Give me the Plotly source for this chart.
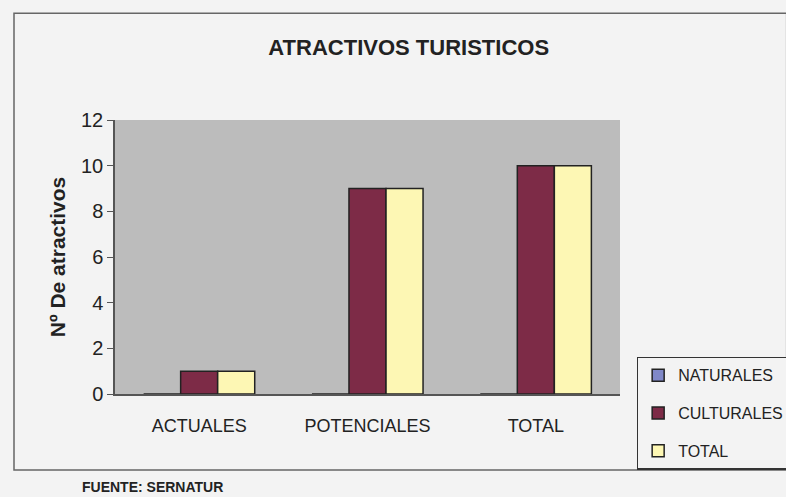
import plotly.graph_objects as go

# data
categorias = ["ACTUALES", "POTENCIALES", "TOTAL"]
naturales = [0, 0, 0]
culturales = [1, 9, 10]
total = [1, 9, 10]
y_ticks = [0, 2, 4, 6, 8, 10, 12]

fuente = "Liberation Sans Narrow, Arial Narrow, Liberation Sans, Arial, sans-serif"

fig = go.Figure()
fig.add_trace(go.Bar(name="NATURALES", x=categorias, y=naturales, legendgroup="n",
                     marker=dict(color="#8088c8", line=dict(color="#222", width=1.5))))
fig.add_trace(go.Bar(name="CULTURALES", x=categorias, y=culturales, legendgroup="c",
                     marker=dict(color="#7d2b47", line=dict(color="#222", width=1.5))))
fig.add_trace(go.Bar(name="TOTAL", x=categorias, y=total, legendgroup="t",
                     marker=dict(color="#fdf7b4", line=dict(color="#222", width=1.5))))

fig.update_layout(
    width=786, height=497,
    barmode="group", bargap=0.34, bargroupgap=0,
    paper_bgcolor="#f3f3f3", plot_bgcolor="#bcbcbc",
    margin=dict(l=115, r=166, t=120, b=103, autoexpand=False),
    font=dict(family=fuente, color="#222"),
    title=dict(text="<b>ATRACTIVOS TURISTICOS</b>", x=0.52, xanchor="center",
               y=0.905, yanchor="middle", font=dict(size=22, family=fuente)),
    xaxis=dict(showgrid=False, showline=True, linecolor="#555", linewidth=1.5,
               automargin=False,
               ticks="outside", ticklen=0, tickfont=dict(size=18, family=fuente),
               ticklabelstandoff=15),
    yaxis=dict(range=[0, 12], tickvals=y_ticks, showgrid=False, zeroline=False,
               automargin=False,
               showline=True, linecolor="#555", linewidth=1.5,
               ticks="outside", ticklen=6, tickcolor="#555",
               tickfont=dict(size=20, family="Liberation Sans, Arial, sans-serif"),
               title=dict(text="<b>Nº De atractivos</b>", standoff=10,
                          font=dict(size=21, family="Liberation Sans, Arial, sans-serif"))),
    legend=dict(xref="container", yref="container", x=0.81, xanchor="left",
                y=0.282, yanchor="top", traceorder="grouped",
                bgcolor="#f3f3f3", bordercolor="#333", borderwidth=1.5,
                font=dict(size=16, family=fuente), itemwidth=30,
                tracegroupgap=14),
    showlegend=True,
)

# marco exterior
fig.add_shape(type="rect", xref="paper", yref="paper",
              x0=-0.20, x1=1.33, y0=-0.277, y1=1.39,
              line=dict(color="#666", width=1.5), layer="below")

fig.add_annotation(text="<b>FUENTE: SERNATUR</b>", xref="paper", yref="paper",
                   x=-0.07, y=-0.34, xanchor="left", yanchor="middle",
                   showarrow=False, font=dict(size=14, family="Liberation Sans, Arial, sans-serif"))

fig.write_html("out.html", config={"displayModeBar": False},
               post_script="document.body.style.margin='0';")
